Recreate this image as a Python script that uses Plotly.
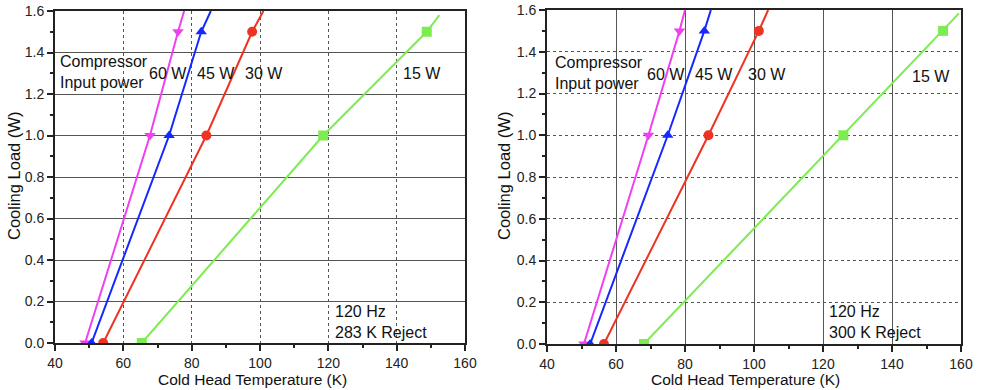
import plotly.graph_objects as go

# ---- data ----
loads = [0.0, 1.0, 1.5]

powers = ["60 W", "45 W", "30 W", "15 W"]
symbols = ["triangle-down", "triangle-up", "circle", "square"]
colors = ["#f040f0", "#1428ff", "#ee3322", "#7cec50"]

# 283 K reject (left panel): temperature (K) at loads 0, 1.0, 1.5
temps_283 = {
    "60 W": [48.8, 67.8, 76.0],
    "45 W": [50.7, 73.4, 82.8],
    "30 W": [54.1, 84.3, 97.7],
    "15 W": [65.4, 118.5, 148.8],
}
# where each fitted line leaves the top of the panel (temperature, load)
line_end_283 = {"60 W": (77.8, 1.6), "45 W": (85.6, 1.6), "30 W": (101.0, 1.6), "15 W": (152.5, 1.58)}

# 300 K reject (right panel)
temps_300 = {
    "60 W": [50.7, 69.4, 78.4],
    "45 W": [52.5, 75.0, 85.6],
    "30 W": [56.5, 86.8, 101.4],
    "15 W": [68.1, 125.9, 154.8],
}
line_end_300 = {"60 W": (80.0, 1.6), "45 W": (87.5, 1.6), "30 W": (104.1, 1.6), "15 W": (159.4, 1.584)}

x_ticks = [40, 60, 80, 100, 120, 140, 160]
y_ticks = [0.0, 0.2, 0.4, 0.6, 0.8, 1.0, 1.2, 1.4, 1.6]

x_title = "Cold Head Temperature (K)"
y_title = "Cooling Load (W)"

FONT = "Liberation Sans, Arial, sans-serif"
fig = go.Figure()

for panel, (temps, ends) in enumerate([(temps_283, line_end_283), (temps_300, line_end_300)]):
    xa = "x" if panel == 0 else "x2"
    ya = "y" if panel == 0 else "y2"
    for p, sym, col in zip(powers, symbols, colors):
        ex, ey = ends[p]
        fig.add_trace(go.Scatter(
            x=temps[p] + [ex], y=loads + [ey], mode="lines",
            line=dict(color=col, width=2), xaxis=xa, yaxis=ya, showlegend=False,
            hoverinfo="skip"))
        fig.add_trace(go.Scatter(
            x=temps[p], y=loads, mode="markers",
            marker=dict(symbol=sym, color=col, size=10), xaxis=xa, yaxis=ya,
            showlegend=False, name=p))

def xaxis(domain, griddash, anchor):
    return dict(domain=domain, anchor=anchor, range=[40, 160], tickvals=x_ticks,
                automargin=False,
                ticks="outside", ticklen=6, tickwidth=1.5, tickcolor="#222",
                minor=dict(ticks="outside", ticklen=3, dtick=10, tick0=40, tickcolor="#222", showgrid=False),
                showline=True, linecolor="#222", linewidth=2, mirror=True,
                showgrid=True, gridcolor="#555", gridwidth=1, griddash=griddash,
                zeroline=False, tickfont=dict(size=14, color="#222", family=FONT))

def yaxis(domain, griddash, anchor):
    return dict(domain=domain, anchor=anchor, range=[0, 1.6], tickvals=y_ticks,
                tickformat=".1f", automargin=False,
                ticks="outside", ticklen=6, tickwidth=1.5, tickcolor="#222",
                minor=dict(ticks="outside", ticklen=3, dtick=0.1, tick0=0, tickcolor="#222", showgrid=False),
                showline=True, linecolor="#222", linewidth=2, mirror=True,
                showgrid=True, gridcolor="#555", gridwidth=1, griddash=griddash,
                zeroline=False, tickfont=dict(size=14, color="#222", family=FONT))

W, H = 981, 390
fig.update_layout(
    width=W, height=H, margin=dict(l=0, r=0, t=0, b=0),
    paper_bgcolor="white", plot_bgcolor="white",
    font=dict(family=FONT, color="#111"),
    xaxis=xaxis([55 / W, 465 / W], "dot", "y"),
    yaxis=yaxis([1 - 343 / H, 1 - 11 / H], "solid", "x"),
    xaxis2=xaxis([547 / W, 961 / W], "solid", "y2"),
    yaxis2=yaxis([1 - 344 / H, 1 - 10 / H], "dot", "x2"),
)

# axis titles placed as paper annotations
for xc in (252.5, 745):
    fig.add_annotation(text=x_title, x=xc / W, y=1 - 379 / H, xref="paper", yref="paper",
                       xanchor="center", yanchor="middle", showarrow=False,
                       font=dict(size=15.5, color="#111", family=FONT))
for xc in (14.5, 504.5):
    fig.add_annotation(text=y_title, x=xc / W, y=1 - 176.5 / H, xref="paper", yref="paper",
                       xanchor="center", yanchor="middle", textangle=-90, showarrow=False,
                       font=dict(size=16.5, color="#111", family=FONT))

labels_left = [("Compressor<br>Input power", 40.9, 1.304),
               ("60 W", 66.9, 1.30), ("45 W", 81.0, 1.30), ("30 W", 95.0, 1.30), ("15 W", 141.3, 1.30),
               ("120 Hz<br>283 K Reject", 121.4, 0.10)]
labels_right = [("Compressor<br>Input power", 41.7, 1.298),
                ("60 W", 68.4, 1.293), ("45 W", 82.3, 1.293), ("30 W", 97.7, 1.293), ("15 W", 145.2, 1.28),
                ("120 Hz<br>300 K Reject", 121.2, 0.106)]
for labels, xr, yr in [(labels_left, "x", "y"), (labels_right, "x2", "y2")]:
    for t, x, y in labels:
        fig.add_annotation(text=t, x=x, y=y, xref=xr, yref=yr, xanchor="left", yanchor="middle",
                           align="left", showarrow=False, font=dict(size=16, color="#111", family=FONT))

fig.write_html("out.html")
